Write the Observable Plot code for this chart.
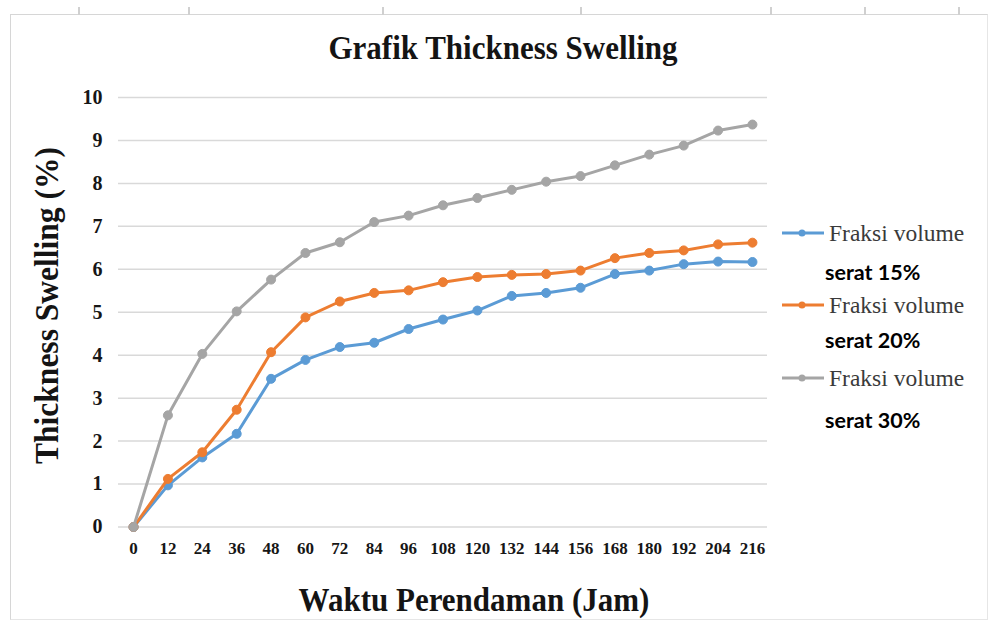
<!DOCTYPE html>
<html>
<head>
<meta charset="utf-8">
<script src="https://cdn.jsdelivr.net/npm/d3@7"></script>
<script src="https://cdn.jsdelivr.net/npm/@observablehq/plot@0.6"></script>
<style>
  html, body { margin: 0; padding: 0; background: #fff; }
  #wrap { position: relative; width: 998px; height: 626px; overflow: hidden; background: #fff; }
  #frame { position: absolute; left: 10px; top: 14px; width: 976px; height: 604px;
           border-left: 1.5px solid #d6d6d6; border-top: 1.5px solid #d6d6d6; border-right: 1.5px solid #e6e6e6; border-bottom: 1.5px solid #e6e6e6; }
  .vtick { position: absolute; top: 7px; width: 1.5px; height: 8px; background: #d0d0d0; }
  #chart { position: absolute; left: 0; top: 0; }
  .txt { position: absolute; white-space: nowrap; font-family: "Liberation Serif", "Times New Roman", serif; font-weight: bold; color: #141414; }
  #title { left: 303px; width: 400px; top: 32px; text-align: center; font-size: 31px; line-height: 31px; transform: scaleY(1.08); }
  #xlabel { left: 274px; width: 400px; top: 584px; text-align: center; font-size: 31px; line-height: 31px; transform: scaleY(1.12); }
  #ylabel { left: -153.5px; width: 400px; top: 289.5px; text-align: center; font-size: 31.5px; line-height: 31px; transform: rotate(-90deg) scaleY(1.05); }
  .leg { position: absolute; left: 780px; }
  .leg svg { position: absolute; left: 0; top: 0; }
  .fr { position: absolute; left: 49px; top: -13px; font-family: "Liberation Serif", serif; font-size: 23.5px; line-height: 26px; color: #3a3a3a; white-space: nowrap; }
  .se { position: absolute; left: 45px; font-family: Lato, "Open Sans", sans-serif; font-weight: bold; font-size: 21.5px; line-height: 24px; color: #000; white-space: nowrap; }
</style>
</head>
<body>
<div id="wrap">
  <div id="frame"></div>
  <div id="chart"></div>
  <div id="title" class="txt">Grafik Thickness Swelling</div>
  <div id="xlabel" class="txt">Waktu Perendaman (Jam)</div>
  <div id="ylabel" class="txt">Thickness Swelling (%)</div>
  <div id="legend"></div>
</div>
<script>
// ---- data ----
const hours = [0, 12, 24, 36, 48, 60, 72, 84, 96, 108, 120, 132, 144, 156, 168, 180, 192, 204, 216];
const serat15 = [0, 0.97, 1.62, 2.17, 3.45, 3.89, 4.19, 4.29, 4.61, 4.83, 5.04, 5.38, 5.45, 5.57, 5.89, 5.97, 6.12, 6.18, 6.17];
const serat20 = [0, 1.12, 1.74, 2.73, 4.07, 4.88, 5.25, 5.45, 5.51, 5.70, 5.82, 5.87, 5.89, 5.97, 6.26, 6.38, 6.44, 6.58, 6.62];
const serat30 = [0, 2.60, 4.03, 5.02, 5.76, 6.38, 6.63, 7.10, 7.25, 7.49, 7.66, 7.85, 8.04, 8.17, 8.42, 8.67, 8.88, 9.23, 9.37];
const seriesLines1 = ["Fraksi volume", "Fraksi volume", "Fraksi volume"];
const seriesLines2 = ["serat 15%", "serat 20%", "serat 30%"];
const seriesNames = seriesLines2.map((s, i) => seriesLines1[i] + " " + s);
const seriesColors = ["#5b9bd5", "#ed7d31", "#a5a5a5"];
const yTicks = [0, 1, 2, 3, 4, 5, 6, 7, 8, 9, 10];
const titleText = "Grafik Thickness Swelling";
const xLabelText = "Waktu Perendaman (Jam)";
const yLabelText = "Thickness Swelling (%)";

// ---- build ----
const allValues = [serat15, serat20, serat30];
const seriesData = allValues.map((vals, i) =>
  hours.map((h, j) => ({ hour: h, value: vals[j], series: seriesNames[i] }))
);

const marks = [
  Plot.gridY(yTicks, { stroke: "#d9d9d9", strokeOpacity: 1, strokeWidth: 1.5 }),
  Plot.axisY(yTicks, { tickSize: 0, tickPadding: 16, label: null, fontSize: 20, tickFormat: d => String(d) }),
  Plot.axisX(hours, { tickSize: 0, tickPadding: 15, label: null, fontSize: 17, tickFormat: d => String(d) })
];
seriesData.forEach(d => {
  marks.push(Plot.line(d, { x: "hour", y: "value", stroke: "series", strokeWidth: 3 }));
  marks.push(Plot.dot(d, { x: "hour", y: "value", fill: "series", stroke: "series", strokeWidth: 1, r: 4.5 }));
});

const chart = Plot.plot({
  width: 998,
  height: 626,
  marginLeft: 118,
  marginRight: 231,
  marginTop: 97,
  marginBottom: 99.5,
  style: { background: "transparent", fontFamily: "'Liberation Serif', 'Times New Roman', serif", fontWeight: "bold", color: "#161616" },
  x: { domain: [-5.25, 221.25] },
  y: { domain: [0, 10] },
  color: { domain: seriesNames, range: seriesColors },
  marks
});
document.getElementById("chart").appendChild(chart);

document.getElementById("title").textContent = titleText;
document.getElementById("xlabel").textContent = xLabelText;
document.getElementById("ylabel").textContent = yLabelText;

// spreadsheet column separators on top border
[78, 188, 382, 580, 770, 864, 958].forEach(x => {
  const t = document.createElement("div");
  t.className = "vtick";
  t.style.left = x + "px";
  document.getElementById("wrap").appendChild(t);
});

// legend
const legTops = [233, 305, 378];
const legSub = [272, 340, 420];
const legend = document.getElementById("legend");
seriesNames.forEach((name, i) => {
  const item = document.createElement("div");
  item.className = "leg";
  item.style.top = legTops[i] + "px";
  item.innerHTML =
    `<svg width="46" height="12" style="top:-6px;overflow:visible">
       <line x1="2" y1="6" x2="44" y2="6" stroke="${seriesColors[i]}" stroke-width="3"/>
       <circle cx="22" cy="6" r="3.5" fill="${seriesColors[i]}"/>
     </svg>
     <div class="fr">${seriesLines1[i]}</div>
     <div class="se" style="top:${legSub[i] - legTops[i] - 12}px">${seriesLines2[i]}</div>`;
  legend.appendChild(item);
});
</script>
</body>
</html>
